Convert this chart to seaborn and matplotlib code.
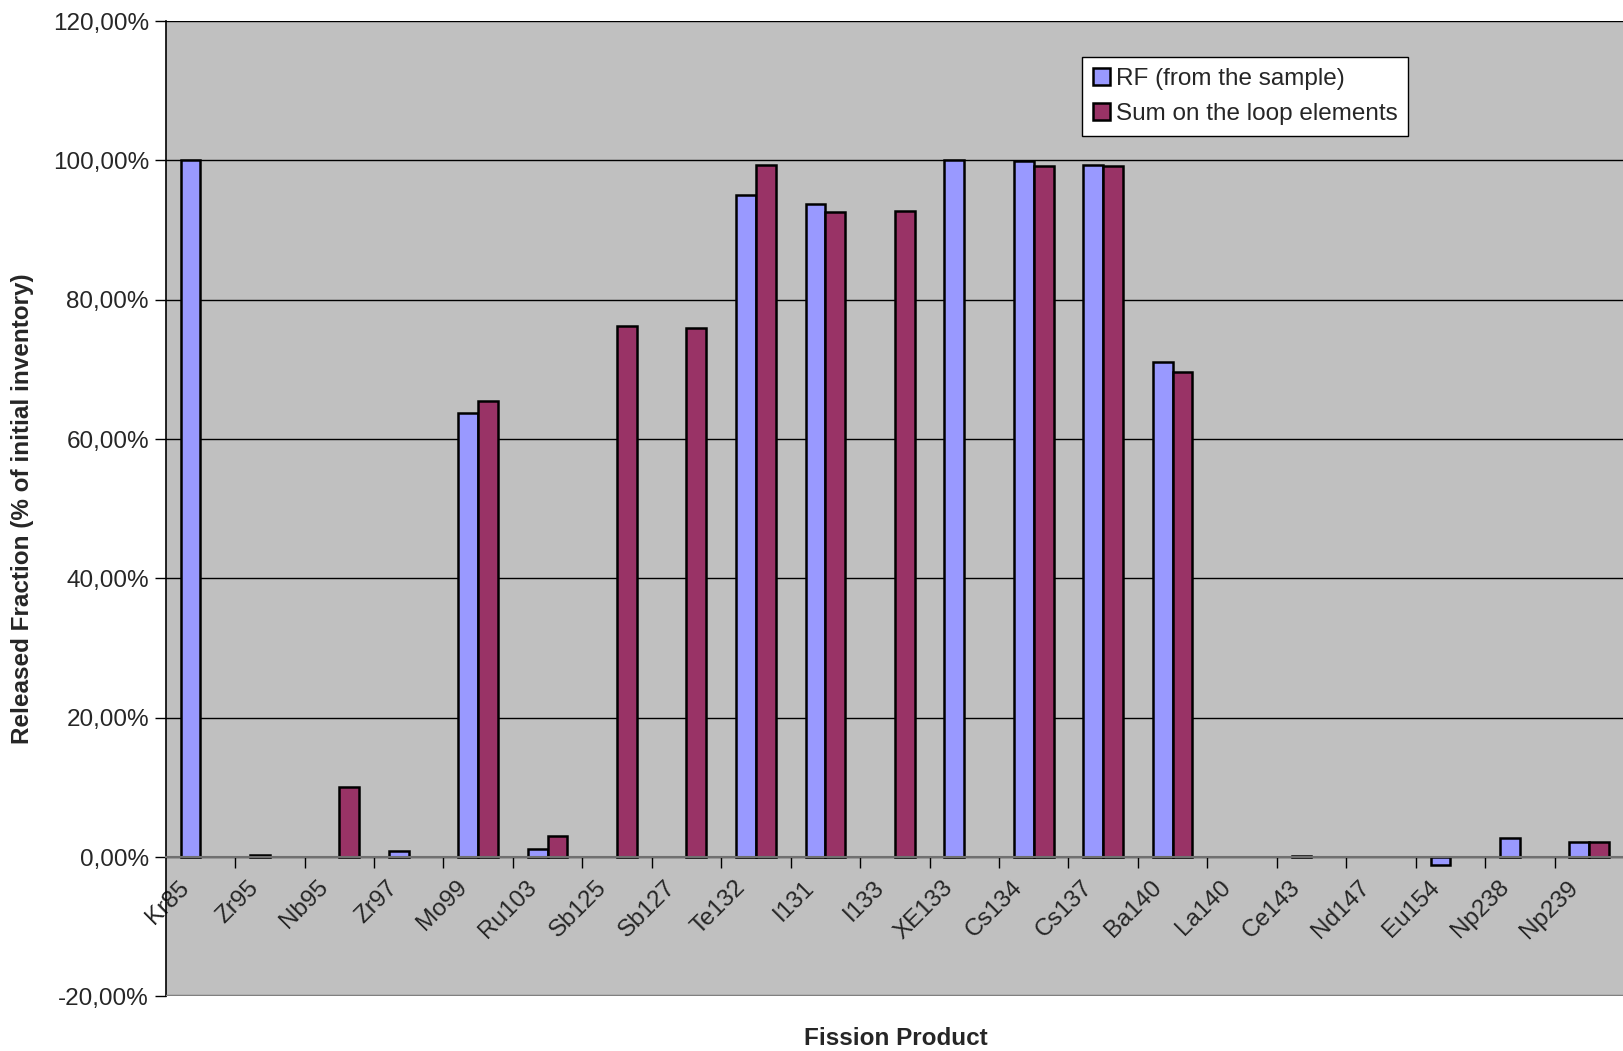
import numpy as np
import pandas as pd
import seaborn as sns
import matplotlib.pyplot as plt
from matplotlib.ticker import FuncFormatter, FixedLocator
from matplotlib.transforms import ScaledTranslation

products = ["Kr85", "Zr95", "Nb95", "Zr97", "Mo99", "Ru103", "Sb125", "Sb127",
            "Te132", "I131", "I133", "XE133", "Cs134", "Cs137", "Ba140", "La140",
            "Ce143", "Nd147", "Eu154", "Np238", "Np239"]
rf_sample = [100.0, 0.25, np.nan, 0.9, 63.8, 1.2, np.nan, np.nan,
             95.0, 93.8, np.nan, 100.0, 99.9, 99.4, 71.1, np.nan,
             0.15, np.nan, -1.2, 2.8, 2.1]
sum_loop = [np.nan, np.nan, 10.1, np.nan, 65.5, 3.0, 76.2, 75.9,
            99.4, 92.6, 92.8, np.nan, 99.2, 99.2, 69.6, np.nan,
            np.nan, np.nan, np.nan, np.nan, 2.2]
series = ["RF (from the sample)", "Sum on the loop elements"]
colors = ["#9999FF", "#993366"]

df = pd.DataFrame({
    "Fission Product": products * 2,
    "Released": rf_sample + sum_loop,
    "Series": [series[0]] * len(products) + [series[1]] * len(products),
})

sns.set_style("white")
plt.rcParams["font.family"] = ["Liberation Sans", "DejaVu Sans"]

fig = plt.figure(figsize=(16.24, 10.51), dpi=100)
ax = fig.add_axes([0.102, 0.052, 0.898, 0.928])
ax.set_facecolor("#C0C0C0")

sns.barplot(data=df, x="Fission Product", y="Released", hue="Series",
            order=products, hue_order=series, palette=colors, width=0.57,
            edgecolor="black", linewidth=1.8, saturation=1, ax=ax,
            errorbar=None)

ax.set_xlim(-0.5, len(products) - 0.5)
ax.set_ylim(-20, 120)
ax.set_yticks(np.arange(-20, 121, 20))
ax.yaxis.set_major_formatter(FuncFormatter(lambda v, p: f"{v:.2f}%".replace(".", ",")))
ax.yaxis.grid(True, color="black", linewidth=1)
ax.set_axisbelow(True)

for s in ["top", "right"]:
    ax.spines[s].set_visible(False)
ax.spines["left"].set_color("black")
ax.spines["left"].set_linewidth(1.2)
ax.spines["bottom"].set_position(("data", 0))
ax.spines["bottom"].set_color("#707070")
ax.spines["bottom"].set_linewidth(1.5)

ax.tick_params(axis="y", which="major", length=8, width=1, color="black",
               labelsize=17.5, pad=4, left=True)
ax.xaxis.set_minor_locator(FixedLocator(np.arange(0.5, len(products) - 0.5, 1)))
ax.tick_params(axis="x", which="minor", length=8, width=1, color="black",
               direction="out", bottom=True)
ax.tick_params(axis="x", which="major", length=0, labelsize=17.5, pad=14)
for lab in ax.get_xticklabels():
    lab.set_rotation(45)
    lab.set_rotation_mode("anchor")
    lab.set_ha("right")
    lab.set_va("top")
    lab.set_transform(lab.get_transform() + ScaledTranslation(-0.22, 0, fig.dpi_scale_trans))

# bottom border of the plot area
ax.axhline(-20, color="#808080", linewidth=2.5, zorder=3)

ax.set_xlabel("Fission Product", fontsize=17.5, fontweight="bold")
ax.xaxis.set_label_coords(0.5008, -0.043)
ax.xaxis.label.set_va("center")
ax.set_ylabel("Released Fraction (% of initial inventory)", fontsize=17.5,
              fontweight="bold")
ax.yaxis.set_label_coords(-0.098, 0.5)
ax.yaxis.label.set_va("center")

leg = ax.legend(loc="upper left", bbox_to_anchor=(0.666, 0.946),
                bbox_transform=fig.transFigure, fontsize=17.5, frameon=True,
                fancybox=False, framealpha=1, edgecolor="black",
                handlelength=0.7, handleheight=0.7, handletextpad=0.25,
                borderpad=0.45, labelspacing=0.55, borderaxespad=0)
leg.get_frame().set_linewidth(1)

fig.savefig("out.png", dpi=100)
